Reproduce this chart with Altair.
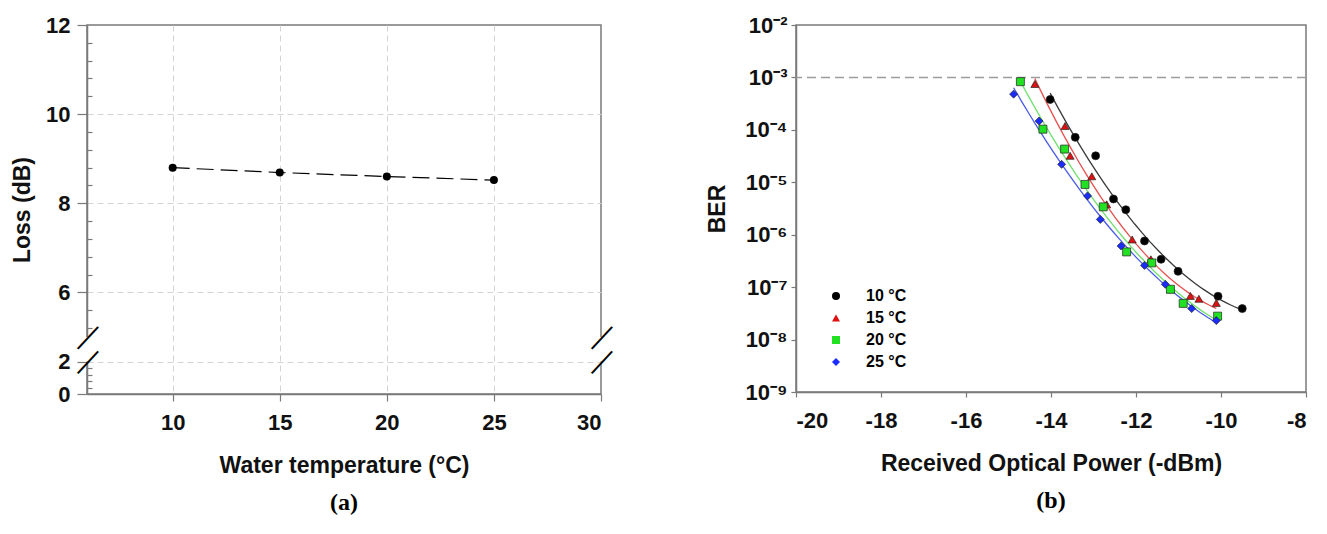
import altair as alt
import pandas as pd

# ---------------- panel (a): loss vs water temperature ----------------
temps = [10, 15, 20, 25]
loss_db = [8.80, 8.69, 8.60, 8.52]
loss_major = [0, 2, 6, 8, 10, 12]
loss_minor = [0.4, 0.8, 1.2, 1.6, 5.2, 5.6, 6.4, 6.8, 7.2, 7.6, 8.4, 8.8,
              9.2, 9.6, 10.4, 10.8, 11.2, 11.6]
temp_ticks = [10, 15, 20, 25, 30]
temp_domain = [6, 30]
loss_domain = [0, 2, 5, 12]          # piecewise (broken) axis: 2..5 is the break
break_low, break_high = 2, 5

# ---------------- panel (b): BER vs received optical power ----------------
series_names = ["10 °C", "15 °C", "20 °C", "25 °C"]
p10 = [-14.02, -13.43, -12.95, -12.53, -12.24, -11.80, -11.41, -11.01, -10.07, -9.50]
b10 = [3.8e-4, 7.2e-5, 3.2e-5, 4.8e-6, 3.0e-6, 7.6e-7, 3.4e-7, 2.0e-7, 6.7e-8, 3.9e-8]
p15 = [-14.38, -13.67, -13.55, -13.04, -12.69, -12.09, -11.65, -11.19, -10.72, -10.52, -10.11]
b15 = [7.5e-4, 1.18e-4, 3.2e-5, 1.3e-5, 3.8e-6, 8.1e-7, 3.4e-7, 9.1e-8, 6.8e-8, 6.0e-8, 5.0e-8]
p20 = [-14.72, -14.19, -13.68, -13.20, -12.77, -12.22, -11.63, -11.19, -10.89, -10.08]
b20 = [8.3e-4, 1.03e-4, 4.3e-5, 9.1e-6, 3.4e-6, 4.7e-7, 2.9e-7, 9.1e-8, 4.9e-8, 2.8e-8]
p25 = [-14.88, -14.28, -13.75, -13.14, -12.84, -12.35, -11.80, -11.31, -10.69, -10.11]
b25 = [4.8e-4, 1.47e-4, 2.2e-5, 5.5e-6, 1.96e-6, 6.1e-7, 2.6e-7, 1.13e-7, 3.9e-8, 2.3e-8]
fec_limit = [1e-3]
power_ticks = [-20, -18, -16, -14, -12, -10, -8]
ber_ticks = [1e-2, 1e-3, 1e-4, 1e-5, 1e-6, 1e-7, 1e-8, 1e-9]

marker_fill = ["#000000", "#e01010", "#22e022", "#1a2cff"]
marker_shape = ["circle", "triangle-up", "square", "diamond"]
line_colors = ["#3a3a3a", "#e85050", "#70e070", "#4a5ae8"]

AX = "#7a7a7a"
FONT = "Liberation Sans"

# ================= panel (a) =================
df_a = pd.DataFrame({"temp": temps, "loss": loss_db})
xa_scale = alt.Scale(domain=temp_domain, nice=False, zero=False)
ya_scale = alt.Scale(domain=loss_domain, range=[369, 336.5, 312, 0], nice=False, zero=False)

xa_axis = alt.Axis(values=temp_ticks, title="Water temperature (°C)", tickSize=7,
                   labelPadding=11, titlePadding=21, grid=True, gridDash=[6, 4],
                   gridColor="#d4d4d4", gridWidth=1,
                   gridOpacity={"condition": {"test": "datum.value >= 30", "value": 0}, "value": 1})
ya_axis = alt.Axis(values=loss_major, title="Loss (dB)", tickSize=10, labelPadding=7,
                   titlePadding=11, grid=True, gridDash=[6, 4], gridColor="#d4d4d4", gridWidth=1,
                   gridOpacity={"condition": {"test": "datum.value == 0 || datum.value == 12", "value": 0},
                                "value": 1})
ya_minor = alt.Axis(values=loss_minor, orient="left", tickSize=5, offset=-5, domain=False,
                    labels=False, grid=False, title=None, tickWidth=1.2)

X_a = alt.X("temp:Q", scale=xa_scale, axis=xa_axis)

line_a = alt.Chart(df_a).mark_line(color="black", strokeDash=[17, 7], strokeWidth=1.2).encode(
    x=X_a,
    y=alt.Y("loss:Q", scale=ya_scale, axis=ya_axis),
)
pts_a = alt.Chart(df_a).mark_point(filled=True, color="black", size=64, opacity=1).encode(
    x=X_a,
    y=alt.Y("loss:Q", scale=ya_scale, axis=None),
)
df_gap = pd.DataFrame({"temp": temp_domain, "lo": [break_low] * 2, "hi": [break_high] * 2})
gap_a = alt.Chart(df_gap).mark_rule(color="white", strokeWidth=5).encode(
    x=X_a,
    y=alt.Y("lo:Q", scale=ya_scale, axis=ya_minor),
    y2="hi:Q",
)
df_slash = pd.DataFrame({"temp": [temp_domain[0]] * 2 + [temp_domain[1]] * 2,
                         "loss": [break_high, break_low] * 2})
slash_a = alt.Chart(df_slash).mark_text(text="—", angle=313, fontSize=30, color="black",
                                       font=FONT).encode(
    x=X_a,
    y=alt.Y("loss:Q", scale=ya_scale, axis=None),
)
panel_a = alt.layer(line_a, pts_a, gap_a, slash_a).resolve_axis(y="independent").properties(
    width=514, height=369,
    title=alt.TitleParams("(a)", orient="bottom", font="Liberation Serif", fontSize=24,
                          fontWeight="bold", color="black", offset=14, anchor="middle", frame="group"),
)

# ================= panel (b) =================
rows = []
for name, ps, bs in zip(series_names, [p10, p15, p20, p25], [b10, b15, b20, b25]):
    for p, b in zip(ps, bs):
        rows.append({"series": name, "power": p, "ber": b})
df_b = pd.DataFrame(rows)

xb_scale = alt.Scale(domain=[-20, -8], nice=False, zero=False)
yb_scale = alt.Scale(type="log", domain=[1e-9, 1e-2], nice=False)
xb_axis = alt.Axis(values=power_ticks, title="Received Optical Power (-dBm)", tickSize=5,
                   labelPadding=13, titlePadding=21, grid=False,
                   labelExpr="replace(datum.label, '−', '-')")
sup = "['⁰','¹','²','³','⁴','⁵','⁶','⁷','⁸','⁹']"
yb_axis = alt.Axis(values=ber_ticks, title="BER", tickSize=5, labelPadding=4, titlePadding=15,
                   grid=False,
                   labelExpr="'10⁻' + " + sup + "[round(-log(datum.value)/LN10)]")
X_b = alt.X("power:Q", scale=xb_scale, axis=xb_axis)

thr = alt.Chart(pd.DataFrame({"ber": fec_limit})).mark_rule(
    color="#9c9c9c", strokeDash=[9, 5], strokeWidth=1.4).encode(
    y=alt.Y("ber:Q", scale=yb_scale, axis=yb_axis))

fits = alt.Chart(df_b).transform_calculate(
    lber="log(datum.ber)/LN10"
).transform_regression(
    "power", "lber", method="poly", order=2, groupby=["series"]
).transform_calculate(
    fit="pow(10, datum.lber)"
).mark_line(strokeWidth=1.3).encode(
    x=X_b,
    y=alt.Y("fit:Q", scale=yb_scale),
    color=alt.Color("series:N", scale=alt.Scale(domain=series_names, range=line_colors), legend=None),
)

leg = alt.Legend(title=None, orient="none", legendX=32, legendY=263,
                 labelFont=FONT, labelFontSize=16, labelFontWeight="bold",
                 labelColor="black", symbolSize=64, rowPadding=6, labelOffset=22,
                 symbolStrokeColor="#222222", symbolStrokeWidth=0.6)

pts_b = alt.Chart(df_b).mark_point(size=64, strokeWidth=0.7, stroke="#222222", opacity=1).encode(
    x=X_b,
    y=alt.Y("ber:Q", scale=yb_scale),
    fill=alt.Fill("series:N", scale=alt.Scale(domain=series_names, range=marker_fill), legend=leg),
    shape=alt.Shape("series:N", scale=alt.Scale(domain=series_names, range=marker_shape), legend=leg),
)

panel_b = alt.layer(thr, fits, pts_b).properties(
    width=510, height=367,
    title=alt.TitleParams("(b)", orient="bottom", font="Liberation Serif", fontSize=24,
                          fontWeight="bold", color="black", offset=14, anchor="middle", frame="group"),
)

chart = alt.hconcat(panel_a, panel_b, spacing=82).resolve_legend(
    fill="independent", shape="independent"
).configure(
    font=FONT, padding={"left": 2, "top": 5, "right": 5, "bottom": 5}
).configure_view(
    stroke=AX, strokeWidth=1.5
).configure_axis(
    labelFont=FONT, labelFontSize=22, labelFontWeight="bold", labelColor="#111111",
    titleFont=FONT, titleFontSize=23, titleFontWeight="bold", titleColor="#111111",
    domainColor=AX, domainWidth=1.5, tickColor=AX, tickWidth=1.2,
)

chart.save("out.html", embed_options={"renderer": "svg", "actions": False})
